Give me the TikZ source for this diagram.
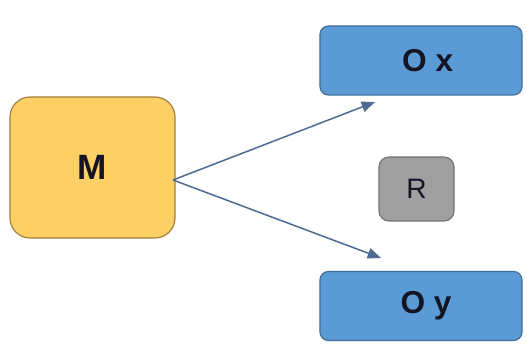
\documentclass[tikz,border=0pt]{standalone}
\usepackage{fontspec}
\setmainfont{Liberation Sans}
\usetikzlibrary{arrows.meta}

\definecolor{mfill}{RGB}{252,208,100}
\definecolor{mdraw}{RGB}{160,128,60}
\definecolor{ofill}{RGB}{91,155,213}
\definecolor{odraw}{RGB}{65,110,150}
\definecolor{rfill}{RGB}{160,160,160}
\definecolor{rdraw}{RGB}{115,115,115}
\definecolor{arrowcol}{RGB}{80,108,145}
\definecolor{textcol}{RGB}{20,20,35}

\begin{document}
\begin{tikzpicture}[
    x = 0.03cm, y = -0.03cm,
    >={Triangle[length=0.4cm, width=0.32cm]},
    mbox/.style = {%
        draw = mdraw, fill = mfill, line width = 1pt,
        rounded corners = 0.6cm, text = textcol,
        minimum width = 4.95cm, minimum height = 4.23cm,
        font = \fontsize{30}{34}\selectfont\bfseries
    },
    obox/.style = {%
        draw = odraw, fill = ofill, line width = 1pt,
        rounded corners = 0.25cm, text = textcol,
        minimum width = 6.06cm, minimum height = 2.07cm,
        font = \fontsize{27}{30}\selectfont\bfseries
    },
    rbox/.style = {%
        draw = rdraw, fill = rfill, line width = 1pt,
        rounded corners = 0.3cm, text = textcol,
        minimum width = 2.25cm, minimum height = 1.92cm,
        font = \fontsize{24}{28}\selectfont
    },
    link/.style = {->, draw = arrowcol, line width = 1.3pt}
]

        % Fix the size of the page.
        \useasboundingbox (0, 0) rectangle (527, 345);

        % The boxes.
        \node[mbox] (M) at (92.5, 167.5) {M};
        \node[obox] (Ox) at (421, 60.5) {\hspace{0.4cm}O x};
        \node[obox] (Oy) at (421, 306) {\hspace{0.3cm}O y};
        \node[rbox] (R) at (416.5, 189) {R};

        % Start and end points of the two arrows.
        \coordinate (start) at (173, 180);
        \coordinate (tipx) at (375, 102);
        \coordinate (tipy) at (381, 258);

        % Draw the arrows leaving M.
        \draw[link] (start) to (tipx);
        \draw[link] (start) to (tipy);
\end{tikzpicture}
\end{document}
